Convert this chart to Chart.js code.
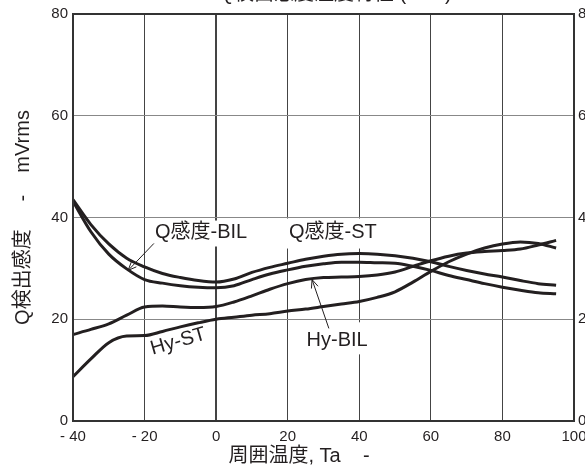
<!DOCTYPE html>
<html>
<head>
<meta charset="utf-8">
<script src="https://cdn.jsdelivr.net/npm/chart.js@4/dist/chart.umd.min.js"></script>
<style>
  html, body { margin: 0; padding: 0; background: #fff; overflow: hidden; }
  #wrap { position: absolute; left: 0; top: 0; width: 610px; height: 468px; }
</style>
</head>
<body>
<div id="wrap"><canvas id="myChart"></canvas></div>
<script>
// temperature (deg C) and sensitivity (mVrms)
const temps = [-40, -35, -30, -25, -20, -15, -10, -5, 0, 5, 10, 15, 20, 25, 30, 35, 40, 45, 50, 55, 60, 65, 70, 75, 80, 85, 90, 95];
const qST = [43.5, 38.6, 34.8, 32.0, 30.3, 29.0, 28.2, 27.6, 27.3, 27.9, 29.2, 30.2, 31.0, 31.8, 32.4, 32.8, 32.9, 32.8, 32.5, 32.0, 31.3, 30.4, 29.6, 28.9, 28.3, 27.6, 27.0, 26.7];
const qBIL = [43.2, 37.2, 32.8, 29.9, 27.8, 27.1, 26.6, 26.3, 26.2, 26.6, 27.8, 28.9, 29.7, 30.4, 30.9, 31.2, 31.2, 31.1, 31.0, 30.4, 29.6, 28.6, 27.8, 27.0, 26.3, 25.7, 25.2, 25.0];
const hyBIL = [17.0, 18.0, 19.1, 20.8, 22.4, 22.6, 22.4, 22.3, 22.5, 23.4, 24.6, 25.9, 27.0, 27.8, 28.2, 28.3, 28.4, 28.7, 29.3, 30.4, 31.5, 32.4, 33.0, 33.3, 33.5, 33.8, 34.6, 35.5];
const hyST = [8.7, 12.2, 15.4, 16.7, 16.8, 17.6, 18.5, 19.3, 20.0, 20.4, 20.8, 21.1, 21.6, 22.0, 22.5, 23.0, 23.5, 24.3, 25.4, 27.3, 29.4, 31.3, 32.8, 34.0, 34.8, 35.2, 34.9, 34.0];

const seriesNames = ['Q感度-ST', 'Q感度-BIL', 'Hy-BIL', 'Hy-ST'];
const xTickLabels = ['- 40', '- 20', '0', '20', '40', '60', '80', '100'];
const yTickLabels = ['0', '20', '40', '60', '80'];
const chartTitle = 'Q検出感度温度特性 (TYP)';
const xTitle = '周囲温度, Ta    -';
const yTitle = 'Q検出感度     -    mVrms';

const FONT = "'Liberation Sans', Arial, 'Noto Sans CJK JP', sans-serif";
const INK = '#231f20';

// labels drawn on the plot, placed in data units
const notes = [
  { text: 'Q感度-BIL', x: -4.2, y: 37.1, box: [-19.6, 16.7, 34.3, 39.4] },
  { text: 'Q感度-ST', x: 32.6, y: 37.1, box: [19.2, 45.8, 33.9, 39.8] },
  { text: 'Hy-ST', x: -10.6, y: 15.6, rotate: -16 },
  { text: 'Hy-BIL', x: 33.8, y: 15.9, box: [23.4, 44.4, 13.1, 19.4] },
];
const arrows = [
  { from: [-17.4, 34.9], to: [-24.6, 29.6] },
  { from: [31.5, 18.2], to: [26.8, 27.8] },
];

const toPoints = (vals) => vals.map((v, i) => ({ x: temps[i], y: v }));

const notesPlugin = {
  id: 'notes',
  beforeDatasetsDraw(chart) {
    const { ctx, scales: { x, y } } = chart;
    ctx.save();
    ctx.fillStyle = '#fff';
    notes.forEach((n) => {
      if (!n.box) return;
      const [x1, x2, y1, y2] = n.box;
      const px1 = x.getPixelForValue(x1);
      const px2 = x.getPixelForValue(x2);
      const py1 = y.getPixelForValue(y2);
      const py2 = y.getPixelForValue(y1);
      ctx.fillRect(px1, py1, px2 - px1, py2 - py1);
    });
    ctx.restore();
  },
  afterDatasetsDraw(chart) {
    const { ctx, chartArea, scales: { x, y } } = chart;
    ctx.save();

    // frame
    ctx.strokeStyle = '#333';
    ctx.lineWidth = 2;
    ctx.strokeRect(chartArea.left, chartArea.top, chartArea.right - chartArea.left, chartArea.bottom - chartArea.top);

    // labels
    ctx.fillStyle = INK;
    ctx.font = '20px ' + FONT;
    ctx.textAlign = 'center';
    ctx.textBaseline = 'middle';
    notes.forEach((n) => {
      const px = x.getPixelForValue(n.x);
      const py = y.getPixelForValue(n.y);
      ctx.save();
      ctx.translate(px, py);
      if (n.rotate) ctx.rotate(n.rotate * Math.PI / 180);
      ctx.fillText(n.text, 0, 0);
      ctx.restore();
    });

    // arrows
    ctx.strokeStyle = INK;
    ctx.lineWidth = 1;
    arrows.forEach((a) => {
      const x1 = x.getPixelForValue(a.from[0]);
      const y1 = y.getPixelForValue(a.from[1]);
      const x2 = x.getPixelForValue(a.to[0]);
      const y2 = y.getPixelForValue(a.to[1]);
      const ang = Math.atan2(y2 - y1, x2 - x1);
      ctx.beginPath();
      ctx.moveTo(x1, y1);
      ctx.lineTo(x2, y2);
      ctx.moveTo(x2 - 9 * Math.cos(ang - 0.4), y2 - 9 * Math.sin(ang - 0.4));
      ctx.lineTo(x2, y2);
      ctx.lineTo(x2 - 9 * Math.cos(ang + 0.4), y2 - 9 * Math.sin(ang + 0.4));
      ctx.stroke();
    });

    // chart title (mostly above the visible area) and x axis title
    ctx.textBaseline = 'alphabetic';
    ctx.fillText(chartTitle, chartArea.left + 262, chartArea.top - 14);
    ctx.textBaseline = 'middle';
    ctx.fillText(xTitle, chartArea.left + 226, chartArea.bottom + 35);
    ctx.restore();
  },
};

const lineStyle = {
  borderColor: INK,
  borderWidth: 3,
  pointRadius: 0,
  fill: false,
  cubicInterpolationMode: 'monotone',
};

const ctx = document.getElementById('myChart').getContext('2d');
const chart = new Chart(ctx, {
  type: 'line',
  data: {
    datasets: [
      { label: seriesNames[0], data: toPoints(qST), ...lineStyle },
      { label: seriesNames[1], data: toPoints(qBIL), ...lineStyle },
      { label: seriesNames[2], data: toPoints(hyBIL), ...lineStyle },
      { label: seriesNames[3], data: toPoints(hyST), ...lineStyle },
    ],
  },
  options: {
    responsive: true,
    maintainAspectRatio: false,
    devicePixelRatio: 1,
    animation: false,
    layout: { padding: { top: 13, left: 0, right: 0, bottom: 0 } },
    plugins: {
      legend: { display: false },
      title: { display: false },
      tooltip: { enabled: false },
    },
    scales: {
      x: {
        type: 'linear',
        min: -40,
        max: 100,
        border: { display: false },
        grid: {
          color: '#444',
          lineWidth: (c) => (c.tick && c.tick.value === 0 ? 2 : 1),
          drawTicks: false,
        },
        ticks: {
          stepSize: 20,
          padding: 7,
          color: INK,
          font: { family: FONT, size: 15 },
          maxRotation: 0,
          callback: (v, i) => xTickLabels[i],
        },
        afterFit: (scale) => { scale.height = 47; },
      },
      y: {
        min: 0,
        max: 80,
        border: { display: false },
        grid: { color: '#888', lineWidth: 1, drawTicks: false },
        ticks: {
          stepSize: 20,
          padding: 5,
          color: INK,
          font: { family: FONT, size: 15 },
          callback: (v, i) => yTickLabels[i],
        },
        title: {
          display: true,
          text: yTitle,
          color: INK,
          font: { family: FONT, size: 20 },
          padding: { top: 11, bottom: 0 },
        },
        afterFit: (scale) => { scale.width = 73; },
      },
      y2: {
        position: 'right',
        min: 0,
        max: 80,
        border: { display: false },
        grid: { display: false, drawTicks: false },
        ticks: {
          stepSize: 20,
          padding: 4,
          color: INK,
          font: { family: FONT, size: 15 },
          callback: (v, i) => yTickLabels[i],
        },
        afterFit: (scale) => { scale.width = 36; },
      },
    },
  },
  plugins: [notesPlugin],
});
</script>
</body>
</html>
